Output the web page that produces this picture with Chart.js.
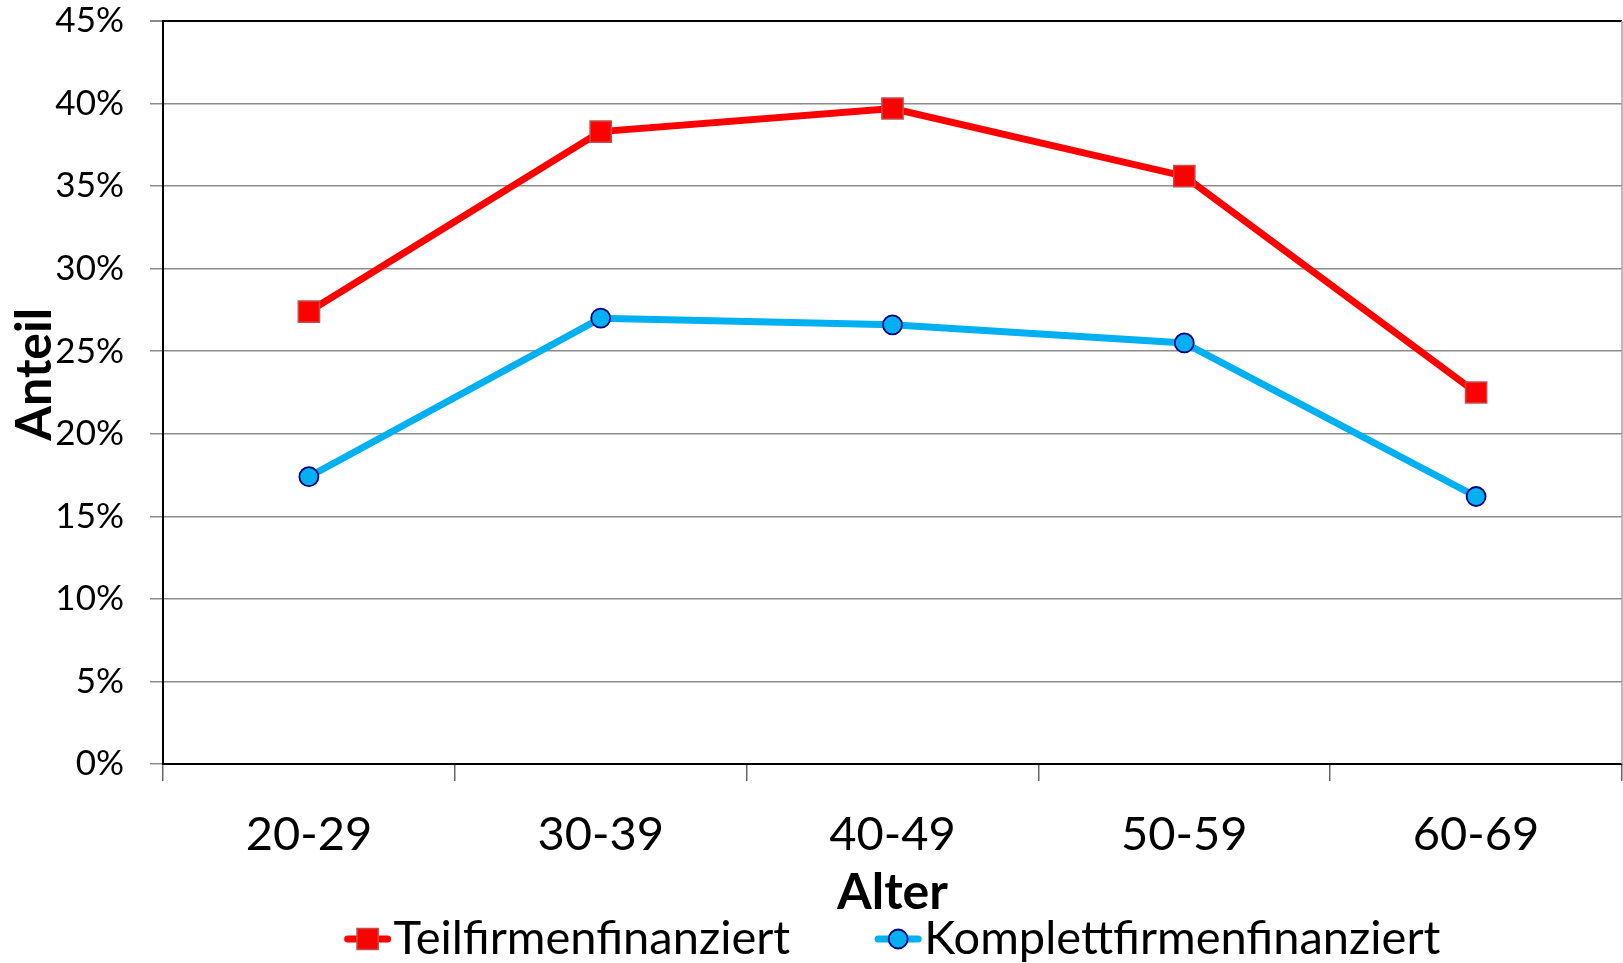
<!DOCTYPE html>
<html>
<head>
<meta charset="utf-8">
<script src="https://cdn.jsdelivr.net/npm/chart.js@4/dist/chart.umd.min.js"></script>
<style>
  html, body { margin: 0; padding: 0; background: #fff; overflow: hidden; }
  #wrap { width: 1623px; height: 963px; }
</style>
</head>
<body>
<div id="wrap"><canvas id="c" width="1623" height="963"></canvas></div>
<script>
// Age groups and shares (percent)
const ageGroups = ['20-29', '30-39', '40-49', '50-59', '60-69'];
const teilfirmen = [27.4, 38.3, 39.7, 35.6, 22.5];
const komplettfirmen = [17.4, 27.0, 26.6, 25.5, 16.2];
const yTickValues = [0, 5, 10, 15, 20, 25, 30, 35, 40, 45];
const seriesNames = ['Teilfirmenfinanziert', 'Komplettfirmenfinanziert'];
const xTitle = 'Alter';
const yTitle = '   Anteil';

const FONT = 'Lato, "Open Sans", sans-serif';

// Legend drawn as line + marker + label, centred under the plot area
const lineLegend = {
  id: 'lineLegend',
  afterDraw(chart, args, opts) {
    const ctx = chart.ctx;
    ctx.save();
    ctx.font = `${opts.fontSize}px ${FONT}`;
    const lineLen = 46, textGap = 3, itemGap = opts.itemGap;
    const items = chart.data.datasets.map(ds => ({
      ds, w: lineLen + textGap + ctx.measureText(ds.label).width
    }));
    const total = items.reduce((s, it) => s + it.w, 0) + itemGap * (items.length - 1);
    let x = (chart.chartArea.left + chart.chartArea.right) / 2 - total / 2;
    const y = chart.height - opts.bottomOffset;
    items.forEach(({ ds, w }) => {
      ctx.strokeStyle = ds.borderColor;
      ctx.lineWidth = ds.borderWidth;
      ctx.lineCap = 'round';
      ctx.beginPath();
      ctx.moveTo(x + 3, y);
      ctx.lineTo(x + lineLen - 3, y);
      ctx.stroke();
      ctx.fillStyle = ds.pointBackgroundColor;
      ctx.strokeStyle = ds.pointBorderColor;
      ctx.lineWidth = ds.pointBorderWidth;
      Chart.helpers.drawPoint(ctx, {
        pointStyle: ds.pointStyle, radius: ds.pointRadius, borderWidth: ds.pointBorderWidth, rotation: 0
      }, x + lineLen / 2, y);
      ctx.fillStyle = '#000';
      ctx.textAlign = 'left';
      ctx.textBaseline = 'middle';
      ctx.fillText(ds.label, x + lineLen + textGap, y);
      x += w + itemGap;
    });
    ctx.restore();
  }
};

// Thin grey frame line on the right edge of the plot area
const rightFrame = {
  id: 'rightFrame',
  beforeDatasetsDraw(chart) {
    const { ctx, chartArea: a } = chart;
    ctx.save();
    ctx.strokeStyle = '#a6a6a6';
    ctx.lineWidth = 1.5;
    ctx.beginPath();
    ctx.moveTo(a.right, a.top);
    ctx.lineTo(a.right, a.bottom);
    ctx.stroke();
    ctx.restore();
  }
};

new Chart(document.getElementById('c'), {
  type: 'line',
  data: {
    labels: ageGroups,
    datasets: [
      {
        label: seriesNames[0],
        data: teilfirmen,
        borderColor: '#ff0000',
        borderWidth: 7,
        pointStyle: 'rect',
        pointRadius: 15,
        pointHoverRadius: 15,
        pointBackgroundColor: '#ff0000',
        pointBorderColor: '#c0504d',
        pointBorderWidth: 1.5,
        tension: 0
      },
      {
        label: seriesNames[1],
        data: komplettfirmen,
        borderColor: '#00b0f0',
        borderWidth: 7,
        pointStyle: 'circle',
        pointRadius: 9.5,
        pointHoverRadius: 9.5,
        pointBackgroundColor: '#00b0f0',
        pointBorderColor: '#000080',
        pointBorderWidth: 1.8,
        tension: 0
      }
    ]
  },
  options: {
    responsive: false,
    animation: false,
    devicePixelRatio: 1,
    layout: { autoPadding: false, padding: { top: 21, right: 1, bottom: 40, left: 0 } },
    plugins: {
      legend: { display: false },
      tooltip: { enabled: false },
      lineLegend: { fontSize: 47, itemGap: 85, bottomOffset: 24 }
    },
    scales: {
      x: {
        offset: true,
        grid: {
          display: true,
          drawOnChartArea: false,
          offset: true,
          tickLength: 17,
          color: '#666',
          lineWidth: 1.5
        },
        border: { color: '#000', width: 2 },
        ticks: {
          color: '#000',
          font: { family: FONT, size: 47 },
          padding: 26,
          maxRotation: 0
        },
        title: {
          display: true,
          text: xTitle,
          color: '#000',
          font: { family: FONT, size: 50, weight: 'bold' },
          padding: { top: 0, bottom: 0 }
        },
        afterFit(scale) {
          scale.height = 159;
          scale.paddingLeft = 0;
          scale.paddingRight = 0;
        }
      },
      y: {
        min: 0,
        max: 45,
        afterBuildTicks(scale) { scale.ticks = yTickValues.map(v => ({ value: v })); },
        grid: {
          color: ctx => (ctx.tick && ctx.tick.value === 45) ? '#000' : '#8c8c8c',
          lineWidth: ctx => (ctx.tick && ctx.tick.value === 45) ? 2 : 1.5,
          tickColor: '#8c8c8c',
          tickLength: 13
        },
        border: { color: '#000', width: 2 },
        ticks: {
          color: '#000',
          font: { family: FONT, size: 35 },
          padding: 26,
          callback: v => v + '%'
        },
        title: {
          display: true,
          text: yTitle,
          color: '#000',
          font: { family: FONT, size: 50, weight: 'bold' },
          padding: { top: 5, bottom: 0 }
        },
        afterFit(scale) {
          scale.width = 163;
          scale.paddingTop = 0;
          scale.paddingBottom = 0;
        }
      }
    }
  },
  plugins: [lineLegend, rightFrame]
});
</script>
</body>
</html>
